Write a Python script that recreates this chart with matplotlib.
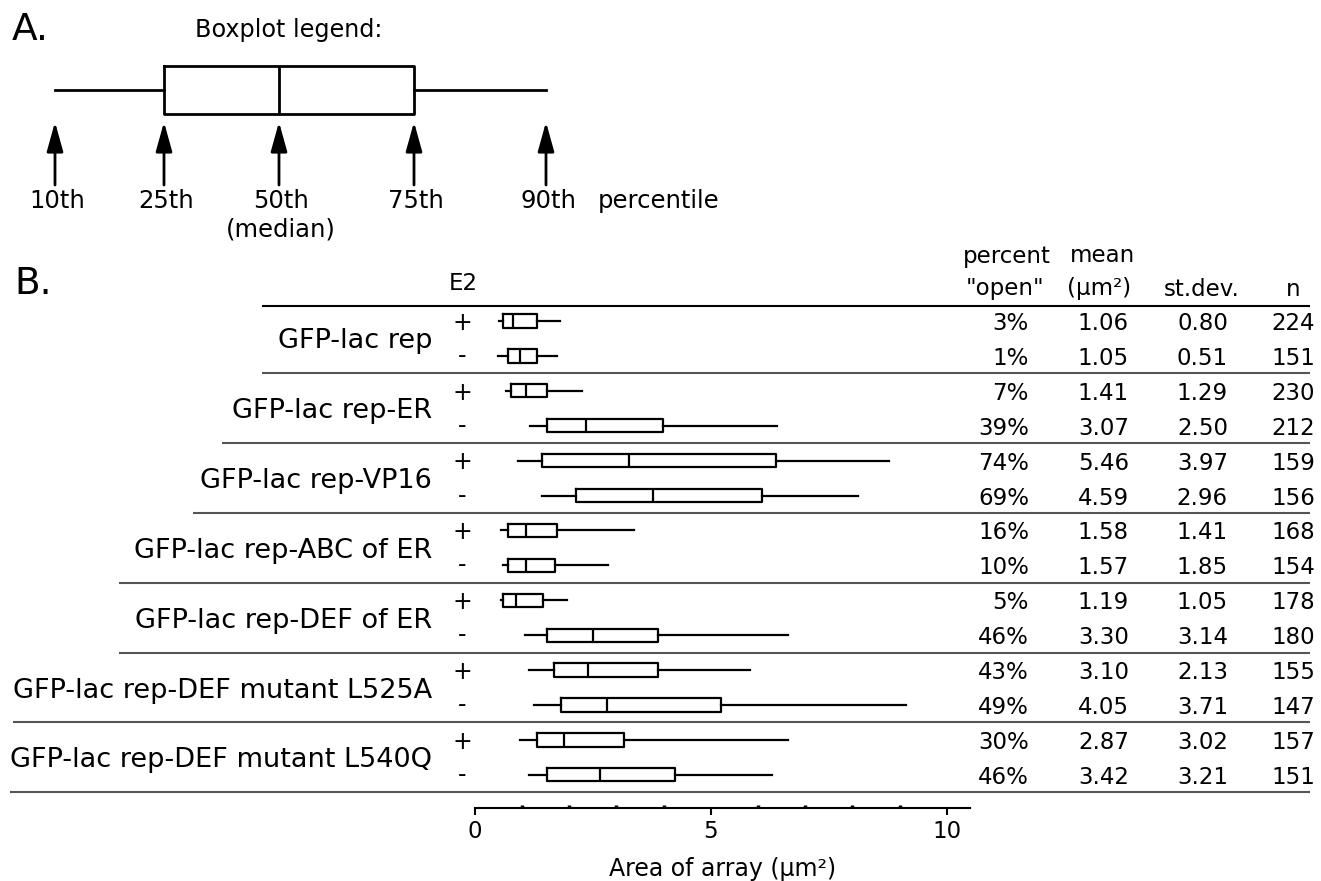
import matplotlib
matplotlib.use("Agg")
import matplotlib.pyplot as plt
from matplotlib.transforms import blended_transform_factory

plt.rcParams['font.family'] = ['DejaVu Sans']

# ---------------- data ----------------
constructs = ["GFP-lac rep", "GFP-lac rep-ER", "GFP-lac rep-VP16",
              "GFP-lac rep-ABC of ER", "GFP-lac rep-DEF of ER",
              "GFP-lac rep-DEF mutant L525A", "GFP-lac rep-DEF mutant L540Q"]
e2_states = ["+", "-"]
# percentiles of array area (um^2), rows ordered construct by construct, + then -
p10 = [0.52, 0.50, 0.66, 1.17, 0.91, 1.42, 0.56, 0.61, 0.56, 1.07, 1.16, 1.26, 0.96, 1.16]
p25 = [0.61, 0.71, 0.76, 1.53, 1.43, 2.15, 0.71, 0.71, 0.61, 1.53, 1.69, 1.83, 1.33, 1.53]
p50 = [0.82, 0.97, 1.09, 2.35, 3.27, 3.77, 1.09, 1.09, 0.88, 2.50, 2.39, 2.80, 1.89, 2.65]
p75 = [1.33, 1.33, 1.54, 3.98, 6.38, 6.08, 1.74, 1.70, 1.44, 3.89, 3.89, 5.22, 3.17, 4.24]
p90 = [1.81, 1.75, 2.27, 6.40, 8.78, 8.13, 3.38, 2.83, 1.96, 6.64, 5.83, 9.14, 6.64, 6.29]
pct_open = [3, 1, 7, 39, 74, 69, 16, 10, 5, 46, 43, 49, 30, 46]
means = [1.06, 1.05, 1.41, 3.07, 5.46, 4.59, 1.58, 1.57, 1.19, 3.30, 3.10, 4.05, 2.87, 3.42]
sds = [0.80, 0.51, 1.29, 2.50, 3.97, 2.96, 1.41, 1.85, 1.05, 3.14, 2.13, 3.71, 3.02, 3.21]
ns = [224, 151, 230, 212, 159, 156, 168, 154, 178, 180, 155, 147, 157, 151]
x_major = [0, 5, 10]
x_minor = [1, 2, 3, 4, 6, 7, 8, 9]
legend_labels = ["10th", "25th", "50th", "75th", "90th"]
legend_pos = [55, 164, 279, 414, 546]   # schematic positions of panel A

# ---------------- figure ----------------
W, H = 1321, 881
fig = plt.figure(figsize=(W / 100, H / 100), dpi=100)

bg = fig.add_axes([0, 0, 1, 1])
bg.set_xlim(0, W)
bg.set_ylim(H, 0)
bg.axis('off')

# box-plot axes (pixel rect: x 474.7..970.3, y 306..793)
x0, x1, ytop, ybot = 474.7, 970.3, 306, 793
ax = fig.add_axes([x0 / W, (H - ybot) / H, (x1 - x0) / W, (ybot - ytop) / H])
nrows = len(p50)

lw = 1.6
stats = [dict(whislo=p10[i], q1=p25[i], med=p50[i], q3=p75[i], whishi=p90[i],
              fliers=[], label='') for i in range(nrows)]
ax.bxp(stats, positions=list(range(nrows)), widths=0.38, orientation='horizontal',
       showcaps=False, showfliers=False, manage_ticks=False,
       boxprops=dict(color='black', lw=lw),
       medianprops=dict(color='black', lw=lw),
       whiskerprops=dict(color='black', lw=lw))
ax.set_xlim(0, 10.5)
ax.set_ylim(13.52, -0.43)
ax.patch.set_alpha(0)
for s in ['left', 'right', 'top']:
    ax.spines[s].set_visible(False)
ax.spines['bottom'].set_position(('outward', 10.8))
ax.spines['bottom'].set_linewidth(1.5)
ax.set_yticks([])
ax.set_xticks(x_major)
ax.set_xticklabels([str(v) for v in x_major])
ax.set_xticks(x_minor, minor=True)
ax.tick_params(axis='x', which='major', direction='out', length=5, width=1.5,
               labelsize=16.5, pad=4)
ax.tick_params(axis='x', which='minor', direction='in', length=2.5, width=2.5)
ax.set_xlabel("Area of array (μm²)", fontsize=17, labelpad=10)

# rows: x in pixels, y in box-axes row units
tr = blended_transform_factory(bg.transData, ax.transData)

# separators
sep_left = [262, 262, 222, 193, 119, 119, 13, 10]
sep_y = [-0.43] + [2 * g + 1.5 for g in range(len(constructs))]
for k, (yl, xl) in enumerate(zip(sep_y, sep_left)):
    bg.plot([xl, 1310], [yl, yl], transform=tr, color='black' if k == 0 else '#555555',
            lw=1.5, solid_capstyle='butt', clip_on=False)

num_fs = 16.5
for g, name in enumerate(constructs):
    bg.text(432, 2 * g + 0.5, name, transform=tr, ha='right', va='center_baseline',
            fontsize=19.5)
    for j, st in enumerate(e2_states):
        r = 2 * g + j
        bg.text(462, r + (0.05 if j == 0 else 0.0), st, transform=tr, ha='center',
                va='center', fontsize=17)

for r in range(nrows):
    bg.text(1029, r, f"{pct_open[r]}%", transform=tr, ha='right', va='center_baseline', fontsize=num_fs)
    bg.text(1129, r, f"{means[r]:.2f}", transform=tr, ha='right', va='center_baseline', fontsize=num_fs)
    bg.text(1228, r, f"{sds[r]:.2f}", transform=tr, ha='right', va='center_baseline', fontsize=num_fs)
    bg.text(1315, r, f"{ns[r]}", transform=tr, ha='right', va='center_baseline', fontsize=num_fs)

# column headers
bg.text(1007, 256, "percent", ha='center', va='center', fontsize=num_fs)
bg.text(1005, 289, '"open"', ha='center', va='center', fontsize=num_fs)
bg.text(1103, 256, "mean", ha='center', va='center', fontsize=num_fs)
bg.text(1099, 289, "(μm²)", ha='center', va='center', fontsize=num_fs)
bg.text(1202, 289, "st.dev.", ha='center', va='center', fontsize=num_fs)
bg.text(1293, 289, "n", ha='center', va='center', fontsize=num_fs)
bg.text(463, 284, "E2", ha='center', va='center', fontsize=num_fs)
bg.text(14, 284, "B.", ha='left', va='center', fontsize=27)

# ---------------- panel A ----------------
bg.text(12, 30, "A.", ha='left', va='center', fontsize=27)
bg.text(195, 30, "Boxplot legend:", ha='left', va='center', fontsize=17.2)
bg.bxp([dict(whislo=legend_pos[0], q1=legend_pos[1], med=legend_pos[2],
             q3=legend_pos[3], whishi=legend_pos[4], fliers=[], label='')],
       positions=[90], widths=48, orientation='horizontal', showcaps=False,
       showfliers=False, manage_ticks=False,
       boxprops=dict(color='black', lw=2), medianprops=dict(color='black', lw=2),
       whiskerprops=dict(color='black', lw=2))
bg.set_xlim(0, W)
bg.set_ylim(H, 0)
for xp, lab in zip(legend_pos, legend_labels):
    bg.annotate('', xy=(xp, 122), xytext=(xp, 185),
                arrowprops=dict(arrowstyle='-|>,head_length=0.72,head_width=0.2',
                                color='black', lw=2, mutation_scale=25,
                                shrinkA=0, shrinkB=0))
    bg.text(xp + 2, 201, lab, ha='center', va='center', fontsize=17.5)
bg.text(598, 201, "percentile", ha='left', va='center', fontsize=17.5)
bg.text(281, 230, "(median)", ha='center', va='center', fontsize=17.5)

fig.savefig("out.png", dpi=100)
